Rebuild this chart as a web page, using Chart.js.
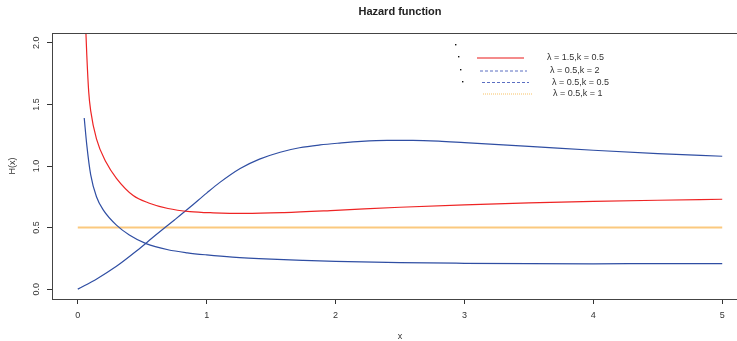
<!DOCTYPE html>
<html>
<head>
<meta charset="utf-8">
<title>Hazard function</title>
<script src="https://cdn.jsdelivr.net/npm/chart.js@4/dist/chart.umd.min.js"></script>
<style>
  html, body { margin: 0; padding: 0; background: #fff; overflow: hidden; }
  canvas { display: block; }
</style>
</head>
<body>
<canvas id="hazard" width="760" height="341"></canvas>
<script>
// values
const redX = [0.055, 0.07, 0.085, 0.1, 0.145, 0.22, 0.3, 0.43, 0.55, 0.7, 0.87, 1.05, 1.3, 1.6, 2.0, 2.5, 3.0, 3.5, 4.0, 4.5, 5.0];
const redY = [2.3, 1.9, 1.6, 1.45, 1.22, 1.03, 0.9, 0.76, 0.7, 0.655, 0.63, 0.62, 0.615, 0.622, 0.64, 0.665, 0.685, 0.7, 0.712, 0.722, 0.73];

const riseX = [0, 0.15, 0.3, 0.45, 0.6, 0.75, 0.87, 1.0, 1.1, 1.26, 1.41, 1.57, 1.72, 1.88, 2.03, 2.2, 2.4, 2.6, 2.8, 3.0, 3.5, 4.0, 4.5, 5.0];
const riseY = [0, 0.085, 0.185, 0.305, 0.435, 0.562, 0.665, 0.78, 0.865, 0.98, 1.056, 1.112, 1.148, 1.171, 1.186, 1.2, 1.208, 1.208, 1.202, 1.19, 1.16, 1.128, 1.1, 1.079];

const fallX = [0.05, 0.07, 0.1, 0.145, 0.2, 0.3, 0.4, 0.53, 0.7, 0.85, 1.0, 1.2, 1.5, 1.75, 2.0, 2.5, 3.0, 3.5, 4.0, 4.5, 5.0];
const fallY = [1.39, 1.17, 0.93, 0.75, 0.64, 0.52, 0.44, 0.37, 0.32, 0.295, 0.278, 0.26, 0.243, 0.233, 0.225, 0.215, 0.21, 0.207, 0.206, 0.207, 0.208];

const flatX = [0, 5];
const flatY = [0.5, 0.5];

const legendLabels = ['λ = 1.5,k = 0.5', 'λ = 0.5,k = 2', 'λ = 0.5,k = 0.5', 'λ = 0.5,k = 1'];
const xTicks = [0, 1, 2, 3, 4, 5];
const yTicks = [0, 0.5, 1, 1.5, 2];
const yTickLabels = ['0.0', '0.5', '1.0', '1.5', '2.0'];

const FONT = "'Liberation Sans', Arial, sans-serif";
const INK = '#333';

const pts = (xs, ys) => xs.map((x, i) => ({ x, y: ys[i] }));

// box, title, rotated y labels and the R-style legend
const extras = {
  id: 'extras',
  afterDraw(chart) {
    const { ctx, chartArea: a, scales } = chart;
    ctx.save();

    ctx.strokeStyle = '#444';
    ctx.lineWidth = 1;
    ctx.strokeRect(a.left + 0.5, a.top + 0.5, a.right - a.left, a.bottom - a.top);

    ctx.fillStyle = '#222';
    ctx.font = 'bold 11px ' + FONT;
    ctx.textAlign = 'center';
    ctx.textBaseline = 'middle';
    ctx.fillText('Hazard function', (a.left + a.right) / 2, 12);

    ctx.fillStyle = INK;
    ctx.font = '9px ' + FONT;
    yTicks.forEach((v, i) => {
      ctx.save();
      ctx.translate(37, scales.y.getPixelForValue(v));
      ctx.rotate(-Math.PI / 2);
      ctx.fillText(yTickLabels[i], 0, 0);
      ctx.restore();
    });

    // legend
    const rows = [
      { dot: [455, 44], line: [477, 524, 58], text: [547, 58], color: '#f06464', width: 1.6, dash: [] },
      { dot: [458, 56], line: [480, 527, 71], text: [550, 71], color: '#5b6fc2', width: 1, dash: [3, 2] },
      { dot: [460, 69], line: [482, 529, 82.5], text: [552, 83], color: '#5b6fc2', width: 1, dash: [3, 2] },
      { dot: [462, 81], line: [483, 533, 94], text: [553, 93.5], color: '#f7c266', width: 1, dash: [1, 1] },
    ];
    ctx.textAlign = 'left';
    ctx.font = '9px ' + FONT;
    rows.forEach((r, i) => {
      ctx.fillStyle = '#111';
      ctx.fillRect(r.dot[0], r.dot[1], 1.4, 1.4);
      ctx.strokeStyle = r.color;
      ctx.lineWidth = r.width;
      ctx.setLineDash(r.dash);
      ctx.beginPath();
      ctx.moveTo(r.line[0], r.line[2]);
      ctx.lineTo(r.line[1], r.line[2]);
      ctx.stroke();
      ctx.setLineDash([]);
      ctx.fillStyle = INK;
      ctx.fillText(legendLabels[i], r.text[0], r.text[1]);
    });

    ctx.restore();
  }
};

new Chart(document.getElementById('hazard'), {
  type: 'line',
  data: {
    datasets: [
      { label: legendLabels[0], data: pts(redX, redY), borderColor: '#ee2424', borderWidth: 1.2 },
      { label: legendLabels[1], data: pts(riseX, riseY), borderColor: '#2f4ea3', borderWidth: 1.2 },
      { label: legendLabels[2], data: pts(fallX, fallY), borderColor: '#2f4ea3', borderWidth: 1.2 },
      { label: legendLabels[3], data: pts(flatX, flatY), borderColor: '#fbc97e', borderWidth: 2 },
    ].map(d => Object.assign(d, { pointRadius: 0, cubicInterpolationMode: 'monotone', fill: false })),
  },
  options: {
    responsive: false,
    animation: false,
    layout: { padding: { top: 33, right: 12, left: 0, bottom: 0 } },
    plugins: {
      legend: { display: false },
      tooltip: { enabled: false },
    },
    scales: {
      x: {
        type: 'linear',
        min: -0.2,
        max: 5.2,
        afterBuildTicks: s => { s.ticks = xTicks.map(v => ({ value: v })); },
        afterFit: s => { s.height = 42; },
        grid: { drawOnChartArea: false, drawTicks: true, tickLength: 5, color: INK },
        border: { display: false },
        ticks: { color: INK, padding: 6, font: { family: FONT, size: 9 }, maxRotation: 0 },
        title: { display: true, text: 'x', color: INK, font: { family: FONT, size: 9, lineHeight: 1 }, padding: 0 },
      },
      y: {
        min: -0.08,
        max: 2.08,
        afterBuildTicks: s => { s.ticks = yTicks.map(v => ({ value: v })); },
        afterFit: s => { s.width = 52; },
        grid: { drawOnChartArea: false, drawTicks: true, tickLength: 5, color: INK },
        border: { display: false },
        ticks: { display: false },
        title: { display: true, text: 'H(x)', color: INK, font: { family: FONT, size: 9, lineHeight: 1 }, padding: { top: 8, bottom: 0 } },
      },
    },
  },
  plugins: [extras],
});
</script>
</body>
</html>
